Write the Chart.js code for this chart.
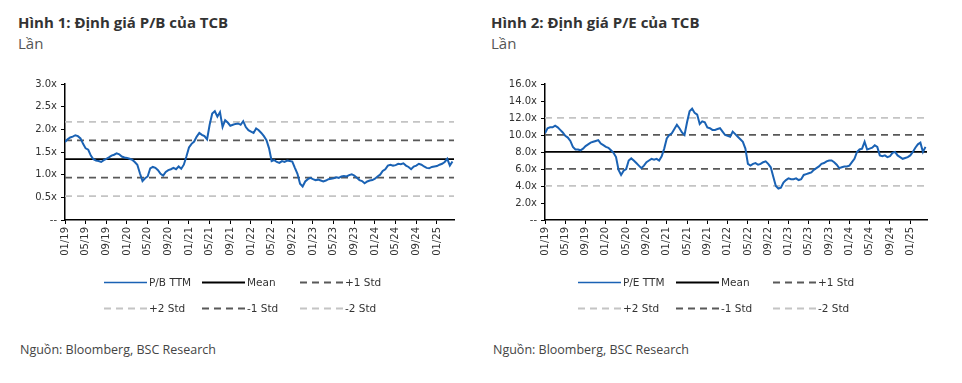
<!DOCTYPE html>
<html><head><meta charset="utf-8">
<script src="https://cdn.jsdelivr.net/npm/chart.js@4/dist/chart.umd.min.js"></script>
<style>
body{margin:0;width:962px;height:383px;background:#fff;position:relative;overflow:hidden;font-family:"Open Sans",Lato,sans-serif}
.t{position:absolute;font-weight:700;font-size:15px;color:#333;white-space:nowrap}
.u{position:absolute;font-size:15px;color:#555;white-space:nowrap}
.s{position:absolute;font-size:12.5px;color:#444;white-space:nowrap}
canvas{position:absolute;top:60px}
</style></head><body>
<div class="t" style="left:18px;top:12px">Hình 1: Định giá P/B của TCB</div>
<div class="u" style="left:18px;top:33px">Lần</div>
<div class="t" style="left:491px;top:12px">Hình 2: Định giá P/E của TCB</div>
<div class="u" style="left:491px;top:33px">Lần</div>
<canvas id="c1" width="481" height="270" style="left:0"></canvas>
<canvas id="c2" width="481" height="270" style="left:481px"></canvas>
<div class="s" style="left:20px;top:341px">Nguồn: Bloomberg, BSC Research</div>
<div class="s" style="left:493px;top:341px">Nguồn: Bloomberg, BSC Research</div>
<script>
// Semimonthly readings starting 01/2019 (x = months since Jan 2019, step 0.5)
const pbTTM = [
1.72,1.78,1.82,1.84,1.87,1.85,1.80,1.68,1.58,1.55,1.42,1.34,1.31,1.30,1.28,1.32,1.35,1.38,1.42,1.44,
1.47,1.45,1.40,1.38,1.37,1.35,1.33,1.28,1.22,1.03,0.86,0.92,0.96,1.14,1.17,1.15,1.10,1.02,0.98,1.06,
1.10,1.12,1.15,1.12,1.18,1.13,1.22,1.40,1.60,1.68,1.73,1.84,1.92,1.88,1.85,1.78,2.10,2.35,2.40,2.28,
2.38,2.05,2.20,2.15,2.08,2.10,2.12,2.13,2.10,2.18,2.05,1.98,1.95,1.92,2.02,1.98,1.92,1.85,1.76,1.58,
1.30,1.32,1.28,1.26,1.30,1.28,1.31,1.30,1.29,1.15,1.02,0.80,0.74,0.85,0.90,0.93,0.90,0.88,0.89,0.87,
0.85,0.87,0.90,0.91,0.92,0.94,0.93,0.96,0.97,0.96,0.99,1.01,0.98,0.93,0.88,0.86,0.81,0.85,0.87,0.88,
0.91,0.96,1.00,1.08,1.12,1.20,1.22,1.20,1.21,1.24,1.23,1.25,1.20,1.17,1.12,1.18,1.20,1.24,1.22,1.18,
1.15,1.14,1.17,1.18,1.19,1.22,1.24,1.28,1.35,1.20,1.29];
const peTTM = [
10.2,10.8,10.9,10.9,11.1,10.9,10.6,10.3,9.9,9.7,9.3,8.6,8.3,8.3,8.2,8.4,8.7,8.9,9.1,9.2,
9.3,9.4,9.0,8.8,8.6,8.5,8.2,7.9,7.4,5.9,5.3,5.8,6.0,7.0,7.25,7.0,6.7,6.4,6.1,6.4,
6.8,7.0,7.2,7.1,7.2,7.0,7.5,8.4,9.6,10.0,10.2,10.7,11.2,10.8,10.3,10.0,11.5,12.8,13.1,12.6,
12.4,11.3,11.6,11.5,10.9,10.8,10.6,10.6,10.7,10.8,10.4,10.0,9.9,9.8,10.4,10.1,9.8,9.5,9.2,8.4,
6.6,6.4,6.6,6.7,6.5,6.6,6.8,6.9,6.6,6.2,5.1,4.0,3.7,3.8,4.4,4.7,4.9,4.8,4.8,4.9,
4.7,4.8,5.3,5.4,5.5,5.6,5.9,6.1,6.3,6.6,6.7,6.9,7.0,7.0,6.8,6.5,6.1,6.2,6.3,6.3,
6.4,6.8,7.2,8.0,8.3,8.4,9.2,8.3,8.4,8.5,8.8,8.6,7.6,7.5,7.6,7.4,7.5,7.9,8.0,7.6,
7.4,7.2,7.3,7.4,7.6,8.0,8.5,8.9,9.1,8.0,8.6];
const pbStats = [1.345, 0.41];   // mean, std
const peStats = [8.02, 2.0];
const pbTicks = [0, 0.5, 1.0, 1.5, 2.0, 2.5, 3.0];
const peTicks = [0, 2, 4, 6, 8, 10, 12, 14, 16];
const xEnd = 75.3;

const gridLegend = {
  id: 'gridLegend',
  afterDraw(chart, args, o) {
    const ctx = chart.ctx;
    chart.data.datasets.forEach((ds, i) => {
      const x = o.cols[i % 3], y = o.rows[Math.floor(i / 3)];
      ctx.save();
      ctx.strokeStyle = ds.borderColor;
      ctx.lineWidth = ds.legendWidth || ds.borderWidth;
      ctx.setLineDash(ds.borderDash || []);
      ctx.beginPath(); ctx.moveTo(x, y + 0.5); ctx.lineTo(x + 43, y + 0.5); ctx.stroke();
      ctx.setLineDash([]);
      ctx.fillStyle = '#333';
      ctx.font = '10.5px "DejaVu Sans"';
      ctx.textBaseline = 'middle';
      ctx.fillText(ds.label, x + 45, y + 1);
      ctx.restore();
    });
  }
};

function build(id, name, vals, stats, ticks, yAxisW, padR, cols) {
  const pts = vals.map((v, i) => ({x: i * 0.5, y: v}));
  const flat = (v) => [{x: 0, y: v}, {x: xEnd, y: v}];
  const [m, s] = stats;
  const mk = (label, v, color, dash, w) => ({label, data: flat(v), borderColor: color, borderDash: dash, borderWidth: w, pointRadius: 0, fill: false});
  new Chart(document.getElementById(id), {
    type: 'line',
    data: {datasets: [
      {label: name, data: pts, borderColor: '#1a62b4', borderWidth: 2, legendWidth: 1.5, pointRadius: 0, tension: 0, fill: false},
      mk('Mean', m, '#000000', [], 1.8),
      mk('+1 Std', m + s, '#595959', [7, 5], 1.8),
      mk('+2 Std', m + 2 * s, '#c4c4c4', [7, 5], 1.8),
      mk('-1 Std', m - s, '#595959', [7, 5], 1.8),
      mk('-2 Std', m - 2 * s, '#c4c4c4', [7, 5], 1.8)
    ]},
    options: {
      responsive: false, animation: false,
      layout: {padding: {top: 24, right: padR, left: 0, bottom: 0}},
      plugins: {legend: {display: false}, tooltip: {enabled: false},
        gridLegend: {cols: cols, rows: [222, 248]}},
      scales: {
        x: {type: 'linear', min: 0, max: xEnd, bounds: 'data',
          ticks: {stepSize: 4, includeBounds: false, autoSkip: false, maxRotation: 90, minRotation: 90,
            color: '#333', font: {family: 'DejaVu Sans', size: 10}, padding: 3,
            callback: (v) => { const mo = v % 12 + 1, yr = 19 + Math.floor(v / 12); return String(mo).padStart(2, '0') + '/' + yr; }},
          grid: {drawOnChartArea: false, drawTicks: true, tickLength: 4, color: '#000', lineWidth: 1},
          border: {color: '#000', width: 1.5},
          afterFit: (sc) => { sc.height = 110; }},
        y: {min: ticks[0], max: ticks[ticks.length - 1],
          afterBuildTicks: (sc) => { sc.ticks = ticks.map(v => ({value: v})); },
          ticks: {color: '#333', font: {family: 'DejaVu Sans', size: 10}, padding: 4,
            callback: (v) => v === 0 ? '--' : v.toFixed(1) + 'x'},
          grid: {drawOnChartArea: false, drawTicks: true, tickLength: 4, color: '#000'},
          border: {color: '#000', width: 1.5},
          afterFit: (sc) => { sc.width = yAxisW; }}
      }
    },
    plugins: [gridLegend]
  });
}
build('c1', 'P/B TTM', pbTTM, pbStats, pbTicks, 65, 27, [104, 202, 300]);
build('c2', 'P/E TTM', peTTM, peStats, peTicks, 64, 35, [97, 195, 292]);
</script>
</body></html>
